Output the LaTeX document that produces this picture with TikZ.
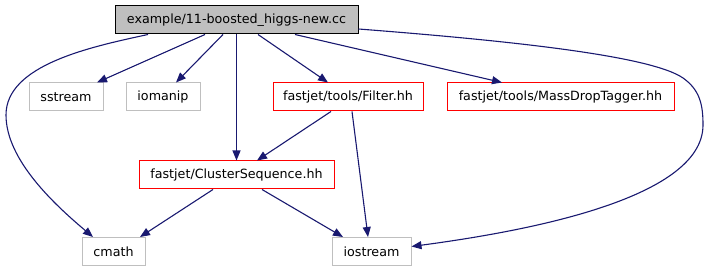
\documentclass[tikz,border=0pt]{standalone}
\usepackage{fontspec}
\setmainfont{DejaVu Sans}
\usetikzlibrary{arrows.meta}
\definecolor{edgeblue}{HTML}{191970}
\definecolor{boxgrey}{HTML}{BFBFBF}
\definecolor{boxred}{HTML}{FF0000}
\begin{document}
\begin{tikzpicture}[x=1pt,y=-1pt,
  every node/.style={font=\fontsize{12.7}{15}\selectfont},
  basebox/.style={draw, line width=1pt, minimum height=28pt, inner sep=0pt, anchor=center},
  greybox/.style={basebox, draw=boxgrey},
  redbox/.style={basebox, draw=boxred},
  topbox/.style={basebox, draw=black, fill=boxgrey},
  edge/.style={draw=edgeblue, line width=1.1pt, -{Triangle[length=10pt,width=8pt]}}]
\useasboundingbox (0,0) rectangle (708,272);
\node[topbox, minimum width=243pt] (top) at (236.5,20) {example/11-boosted\_higgs-new.cc};
\node[greybox, minimum width=74pt] (sstream) at (66,97) {sstream};
\node[greybox, minimum width=74pt] (iomanip) at (163,97) {iomanip};
\node[redbox, minimum width=150pt] (filter) at (348,97) {fastjet/tools/Filter.hh};
\node[redbox, minimum width=227pt] (mdt) at (560.5,97) {fastjet/tools/MassDropTagger.hh};
\node[redbox, minimum width=195pt] (cs) at (236.5,175) {fastjet/ClusterSequence.hh};
\node[greybox, minimum width=63pt] (cmath) at (113.5,251.5) {cmath};
\node[greybox, minimum width=79pt] (iostream) at (371.5,251.5) {iostream};

\draw[edge] ([xshift=-31.5pt]top.south) -- ([xshift=31pt]sstream.north);
\draw[edge] ([xshift=-13.5pt]top.south) -- ([xshift=13pt]iomanip.north);
\draw[edge] (top.south) -- (cs.north);
\draw[edge] ([xshift=21.5pt]top.south) -- ([xshift=-20pt]filter.north);
\draw[edge] ([xshift=58.5pt]top.south) -- ([xshift=-58.5pt]mdt.north);
\draw[edge] ([xshift=-88.5pt]top.south) .. controls (90,47) and (6,65) .. (6,115)
   .. controls (6,160) and (55,205) .. ([xshift=-20.5pt]cmath.north);
\draw[edge] ([yshift=-9pt]top.east) .. controls (500,40) and (650,55) .. (683,78)
   .. controls (700,90) and (703,105) .. (703,125)
   .. controls (703,200) and (520,232) .. ([yshift=5pt]iostream.east);
\draw[edge] ([xshift=-17pt]filter.south) -- ([xshift=20.5pt]cs.north);
\draw[edge] ([xshift=4pt]filter.south) -- ([xshift=-3.5pt]iostream.north);
\draw[edge] ([xshift=-23.5pt]cs.south) -- ([xshift=26.5pt]cmath.north);
\draw[edge] ([xshift=25.5pt]cs.south) -- ([xshift=-28.5pt]iostream.north);
\end{tikzpicture}
\end{document}
